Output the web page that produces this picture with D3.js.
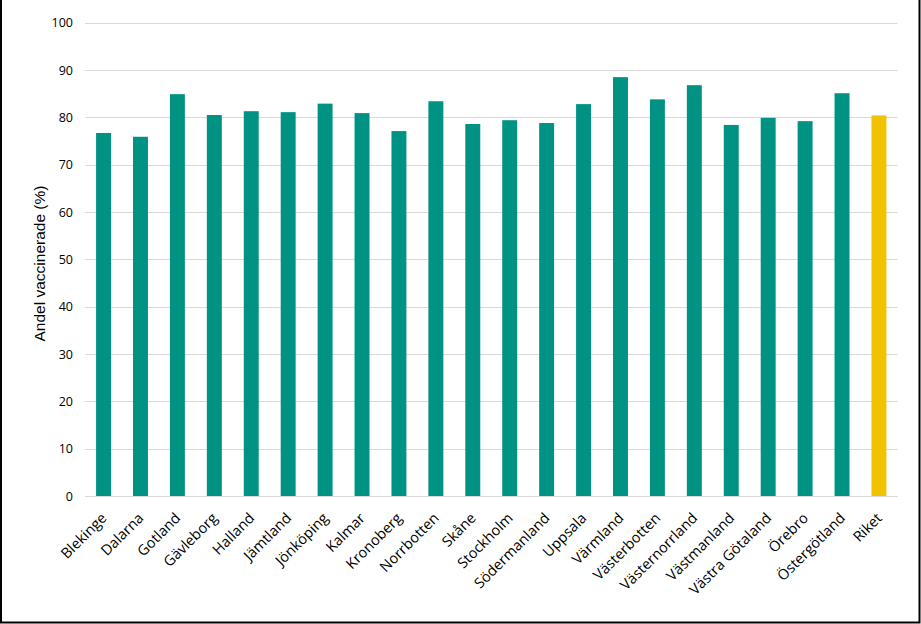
<!DOCTYPE html>
<html><head><meta charset="utf-8">
<script src="https://cdn.jsdelivr.net/npm/d3@7"></script>
<style>body{margin:0;background:#fff}svg{display:block}</style>
</head><body>
<script>
const categories = ["Blekinge","Dalarna","Gotland","Gävleborg","Halland","Jämtland","Jönköping","Kalmar","Kronoberg","Norrbotten","Skåne","Stockholm","Södermanland","Uppsala","Värmland","Västerbotten","Västernorrland","Västmanland","Västra Götaland","Örebro","Östergötland","Riket"];
const values = [76.7,75.9,84.9,80.5,81.3,81.1,82.9,80.9,77.1,83.4,78.6,79.4,78.8,82.8,88.5,83.8,86.8,78.4,79.9,79.2,85.1,80.4];
const yTicks = [0,10,20,30,40,50,60,70,80,90,100];
const yTitle = "Andel vaccinerade (%)";
const highlight = "Riket";

(function(){
const W = 921, H = 624;
const svg = d3.select("body").append("svg").attr("width", W).attr("height", H);
const mL = 85, mR = 897.5, mT = 22.7, mB = 496;
const x = d3.scaleBand().domain(categories).range([mL, mR]).paddingInner(0.595).paddingOuter(0.3);
const y = d3.scaleLinear().domain([0, 100]).range([mB, mT]);

svg.append("g").selectAll("line").data(yTicks).join("line")
  .attr("x1", mL).attr("x2", mR)
  .attr("y1", d => Math.round(y(d)) + 0.5).attr("y2", d => Math.round(y(d)) + 0.5)
  .attr("stroke", "#d9d9d9").attr("stroke-width", 1);

const yAxis = d3.axisLeft(y).tickValues(yTicks).tickSize(0).tickPadding(12);
const ga = svg.append("g").attr("transform", `translate(${mL},0)`).call(yAxis);
ga.select(".domain").remove();
ga.selectAll("text").attr("font-family", "'Open Sans', sans-serif").attr("font-size", 12.5).attr("fill", "#000");

svg.append("g").selectAll("rect").data(categories).join("rect")
  .attr("x", d => x(d)).attr("width", x.bandwidth())
  .attr("y", (d, i) => y(values[i])).attr("height", (d, i) => y(0) - y(values[i]))
  .attr("fill", d => d === highlight ? "#f1c200" : "#009384");

svg.append("line").attr("x1", mL).attr("x2", mR).attr("y1", mB + 0.5).attr("y2", mB + 0.5)
  .attr("stroke", "#d9d9d9");

const xAxis = d3.axisBottom(x).tickSize(0).tickPadding(0);
const gx = svg.append("g").attr("transform", `translate(0,${mB})`).call(xAxis);
gx.select(".domain").remove();
gx.selectAll("text")
  .attr("font-family", "'Open Sans', sans-serif").attr("font-size", 14.5).attr("fill", "#000")
  .attr("text-anchor", "end").attr("dy", null).attr("y", 0)
  .attr("transform", "translate(4,23) rotate(-45)");

svg.append("text").attr("transform", `translate(45,${(182+345)/2}) rotate(-90)`)
  .attr("text-anchor", "middle").attr("font-family", "'Liberation Sans', Arial, sans-serif")
  .attr("font-size", 15.5).attr("fill", "#000").text(yTitle);

svg.append("path").attr("d", `M1,0 V${H-1.5} H${W-1.5} V0`).attr("fill", "none").attr("stroke", "#000").attr("stroke-width", 2);
})();
</script>
</body></html>
